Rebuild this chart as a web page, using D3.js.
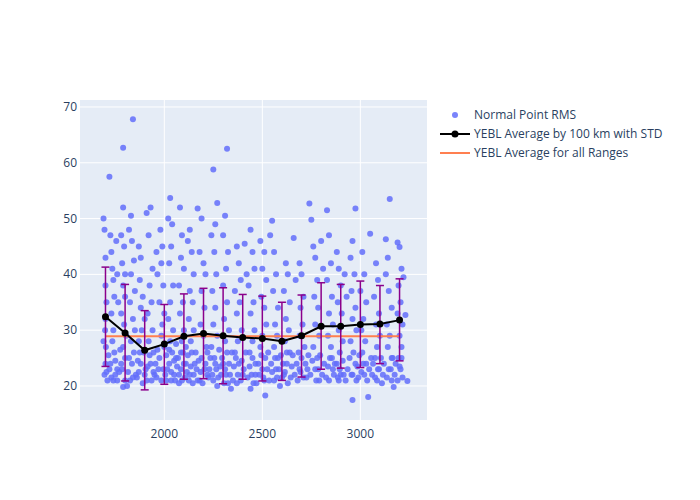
<!DOCTYPE html>
<html><head><meta charset="utf-8">
<script src="https://cdn.jsdelivr.net/npm/d3@7"></script>
<style>body{margin:0;background:#fff}text{font-family:"Open Sans",sans-serif;fill:#2a3f5f}</style>
</head><body><svg class="main" width="700" height="500"></svg>
<script>
// scatter points (range, rms), read off approximately
var points = [
[1690,50],[1695,48],[1700,43],[1700,38],[1705,35],[1698,30],[1702,27],[1700,24],[1695,22],[1710,21],[1690,28],[1700,32],
[1720,57.5],[1725,47],[1730,44],[1735,41],[1740,39],[1745,36],[1730,33],[1740,30],[1735,28],[1745,26],[1725,24],[1750,22],[1740,21],[1760,23],[1755,46],[1760,40],[1765,35],
[1790,62.7],[1790,52],[1780,47],[1795,45],[1785,42],[1800,40],[1790,38],[1800,36],[1780,33],[1795,31],[1805,29],[1790,27],[1800,25],[1785,23],[1800,21],[1790,19.8],[1810,20],
[1840,67.8],[1830,50.5],[1820,48],[1835,46],[1845,42.5],[1830,40],[1850,37],[1825,35],[1840,32],[1850,30],[1830,28],[1845,26],[1835,24],[1855,22],[1840,21.5],
[1870,45],[1880,43],[1875,39],[1890,36],[1880,34],[1900,32],[1885,30],[1870,28],[1895,26],[1880,24],[1900,22],[1890,20.5],[1905,23],
[1910,51],[1930,52],[1920,47],[1940,41],[1925,38],[1935,35],[1915,33],[1940,30],[1920,28],[1945,26],[1930,24],[1950,22],[1935,21],[1960,44],[1965,40],
[1980,48],[1990,45],[1985,42],[1995,38],[1975,35],[2000,33],[1990,31],[1985,29],[2000,27],[1975,25],[1995,23],[1985,21],[2005,22],
[2030,53.7],[2020,50],[2040,49],[2035,45],[2025,42],[2045,38],[2030,35],[2020,32],[2045,30],[2030,28],[2040,26],[2025,24],[2050,22],[2035,21],[2060,25],
[2080,52],[2090,47],[2085,43],[2100,41],[2075,38],[2095,35],[2080,33],[2100,30],[2090,28],[2085,26],[2100,24],[2075,22],[2090,21],[2110,27],
[2130,48],[2120,46],[2140,44],[2150,40],[2130,37],[2145,35],[2125,32],[2150,30],[2135,28],[2140,26],[2155,24],[2130,22],[2145,20.5],[2170,51.8],
[2190,50],[2180,44],[2200,42],[2210,40],[2190,37],[2205,34],[2185,31],[2200,29],[2215,27],[2190,25],[2205,23],[2180,21],[2220,22],
[2250,58.8],[2270,52.8],[2260,49],[2240,47],[2255,44],[2265,40],[2245,37],[2260,34],[2250,31],[2270,29],[2240,27],[2255,25],[2265,23],[2250,21],[2270,20],
[2320,62.5],[2310,50.5],[2300,47],[2325,44],[2315,41],[2300,38],[2320,35],[2305,32],[2330,30],[2310,28],[2320,26],[2300,24],[2315,22],[2325,20.5],[2340,19.5],
[2370,45],[2380,42],[2390,39],[2360,37],[2385,35],[2370,33],[2395,30],[2375,28],[2360,26],[2380,24],[2400,22],[2370,20.5],[2410,45.5],[2420,40],
[2440,48],[2450,44],[2460,41],[2430,38],[2455,35],[2440,33],[2460,30],[2450,28],[2435,26],[2465,24],[2445,22],[2455,20.5],[2440,19.5],
[2490,46],[2510,44],[2500,41],[2520,39],[2495,36],[2510,34],[2520,31],[2500,29],[2490,27],[2515,25],[2500,23],[2510,21],[2515,18.3],[2550,49.6],[2540,47],
[2560,44],[2570,40],[2555,37],[2580,34],[2565,31],[2575,29],[2560,27],[2580,25],[2570,23],[2560,21],[2590,20],
[2620,42],[2630,40],[2610,37],[2640,35],[2620,32],[2635,30],[2615,28],[2640,26],[2625,24],[2610,22],[2630,20.5],[2660,46.5],[2670,39],
[2690,42],[2700,40],[2710,36],[2695,34],[2705,31],[2690,29],[2715,27],[2700,25],[2690,23],[2710,21.5],[2740,52.7],[2750,49.8],
[2760,45],[2770,43],[2780,39],[2765,36],[2785,34],[2770,31],[2790,29],[2760,27],[2780,25],[2770,23],[2790,21],[2800,46],[2810,41],
[2830,51.5],[2840,47],[2850,42],[2830,39],[2855,36],[2840,33],[2860,31],[2835,29],[2850,27],[2845,25],[2860,23],[2840,21],
[2880,44],[2890,41],[2900,38],[2885,35],[2905,33],[2890,30],[2910,28],[2895,26],[2880,24],[2900,22],[2890,21],[2920,40],[2930,36],
[2960,17.5],[2975,51.8],[2960,46],[2950,43],[2970,40],[2955,37],[2975,34],[2960,32],[2980,30],[2950,28],[2965,26],[2975,24],[2960,22],[2980,21],
[3010,44],[3020,40],[3000,37],[3030,35],[3015,32],[3005,30],[3025,28],[3010,26],[3030,24],[3020,22],[3040,18],[3050,47.3],
[3080,42],[3090,39],[3070,36],[3095,33],[3080,31],[3100,29],[3085,27],[3075,25],[3095,23],[3085,21],[3110,20.5],
[3130,46.3],[3140,43],[3150,53.5],[3130,40],[3145,37],[3160,34],[3135,31],[3150,29],[3140,27],[3160,25],[3145,23],[3160,21],[3170,19.8],
[3190,45.7],[3200,44.9],[3210,41],[3195,38],[3205,35],[3190,33],[3215,31],[3200,29],[3210,27],[3195,25],[3205,23],[3220,39.5],[3230,32.7],[3240,20.9]
];
// the dense band near the bottom, read off approximately
var densePoints = [
[1705,22.5],[1715,25.5],[1720,23],[1730,21.5],[1750,24.5],[1760,21],[1770,22.5],[1775,26.5],[1780,24],[1815,22.5],[1820,25],[1825,21],
[1860,21.5],[1865,24.5],[1870,22.5],[1875,26],[1910,21],[1915,23.5],[1925,25.5],[1945,22.5],[1955,24],[1960,21.5],[1965,26.5],[1970,23],
[2010,21],[2010,25.5],[2015,23],[2025,26.5],[2035,22.5],[2050,24.5],[2055,21],[2060,27.5],[2065,23.5],[2070,25],[2075,20.5],[2085,23],
[2095,26],[2105,21.5],[2110,24],[2115,22.5],[2120,25.5],[2125,21],[2135,23.5],[2150,22],[2160,26],[2165,23],[2170,21],[2175,24.5],
[2185,22.5],[2195,20.5],[2210,24],[2220,26],[2225,21.5],[2230,23],[2235,25],[2245,22],[2260,24],[2275,21.5],[2280,26.5],[2285,23.5],
[2290,22],[2295,25],[2305,20.5],[2310,23],[2330,24],[2335,22],[2345,26],[2350,21],[2355,23.5],[2365,25],[2375,22],[2390,21],[2395,24.5],
[2405,23],[2415,26],[2425,21.5],[2435,23.5],[2450,25],[2465,22],[2470,20.5],[2480,24],[2485,22],[2495,25.5],[2505,21.5],[2525,23],
[2530,26],[2535,21],[2545,24],[2550,22.5],[2565,25],[2575,21.5],[2585,23],[2595,25.5],[2600,21.5],[2605,24],[2615,22.5],[2625,26],
[2645,21.5],[2650,23.5],[2655,25.5],[2665,22],[2675,24],[2680,21],[2685,26],[2695,22.5],[2720,24],[2725,21.5],[2730,23],[2735,25.5],
[2745,22],[2755,24.5],[2775,21],[2785,23],[2795,25.5],[2805,22],[2815,24],[2825,21.5],[2835,23.5],[2855,25],[2865,22],[2870,24],
[2885,21.5],[2895,23],[2910,24.5],[2915,22],[2925,21],[2935,23],[2945,25],[2955,22],[2985,23.5],[2990,21.5],[2995,25.5],[3005,22.5],
[3015,24],[3035,21],[3045,23],[3055,25],[3060,22],[3065,24],[3075,21.5],[3090,23],[3105,25],[3115,22],[3120,24],[3135,21.5],
[3155,23],[3165,25],[3175,22],[3180,24],[3190,21],[3200,23.5],[3210,25],[3215,21.5]
];
var binRanges = [1700,1800,1900,2000,2100,2200,2300,2400,2500,2600,2700,2800,2900,3000,3100,3200];
var binMeans  = [32.4,29.5,26.4,27.5,28.9,29.4,29.0,28.7,28.5,28.0,29.0,30.7,30.7,31.0,31.1,31.8];
var binHigh   = [41.3,38.2,33.5,34.6,36.5,37.5,37.6,36.4,36.1,35.0,36.3,38.5,38.2,38.8,38.0,39.2];
var binLow    = [23.5,20.9,19.3,20.3,21.2,21.3,20.4,21.2,20.9,21.0,21.6,23.0,23.2,23.3,24.0,24.5];
var overallMean = 28.9;
var xTicks = [2000,2500,3000];
var yTicks = [20,30,40,50,60,70];
var legendLabels = ["Normal Point RMS","YEBL Average by 100 km with STD","YEBL Average for all Ranges"];

var svg = d3.select(".main");
var m = {left:80, top:100, right:427, bottom:420};
var x = d3.scaleLinear().domain([1570,3340]).range([m.left,m.right]);
var y = d3.scaleLinear().domain([13.9,71.25]).range([m.bottom,m.top]);

svg.append("rect").attr("x",m.left).attr("y",m.top).attr("width",m.right-m.left).attr("height",m.bottom-m.top).attr("fill","#e5ecf6");
svg.append("g").selectAll("line").data(xTicks).join("line")
    .attr("x1",x).attr("x2",x).attr("y1",m.top).attr("y2",m.bottom).attr("stroke","#fff");
svg.append("g").selectAll("line").data(yTicks).join("line")
    .attr("y1",y).attr("y2",y).attr("x1",m.left).attr("x2",m.right).attr("stroke","#fff");
svg.append("g").selectAll("text").data(xTicks).join("text")
    .attr("x",x).attr("y",m.bottom+18).attr("text-anchor","middle").attr("font-size",12).text(function(d){return d;});
svg.append("g").selectAll("text").data(yTicks).join("text")
    .attr("x",m.left-3).attr("y",function(d){return y(d)+4;}).attr("text-anchor","end").attr("font-size",12).text(function(d){return d;});

var plot = svg.append("g");
plot.selectAll("circle.pt").data(points.concat(densePoints)).join("circle").attr("class","pt")
    .attr("cx",function(d){return x(d[0]);}).attr("cy",function(d){return y(d[1]);})
    .attr("r",3).attr("fill","#636efa").attr("opacity",0.85);

plot.append("line").attr("x1",x(binRanges[0])).attr("x2",x(binRanges[binRanges.length-1]))
    .attr("y1",y(overallMean)).attr("y2",y(overallMean)).attr("stroke","#ff7f50").attr("stroke-width",2);

var eb = plot.append("g").attr("stroke","#8b008b").attr("stroke-width",1.5);
binRanges.forEach(function(r,i){
    var cx = x(r);
    eb.append("line").attr("x1",cx).attr("x2",cx).attr("y1",y(binHigh[i])).attr("y2",y(binLow[i]));
    eb.append("line").attr("x1",cx-4).attr("x2",cx+4).attr("y1",y(binHigh[i])).attr("y2",y(binHigh[i]));
    eb.append("line").attr("x1",cx-4).attr("x2",cx+4).attr("y1",y(binLow[i])).attr("y2",y(binLow[i]));
});
var line = d3.line().x(function(d,i){return x(binRanges[i]);}).y(function(d){return y(d);});
plot.append("path").datum(binMeans).attr("d",line).attr("fill","none").attr("stroke","#000").attr("stroke-width",2);
plot.selectAll("circle.avg").data(binMeans).join("circle").attr("class","avg")
    .attr("cx",function(d,i){return x(binRanges[i]);}).attr("cy",y).attr("r",3.5).attr("fill","#000");

var lg = svg.append("g").attr("transform","translate(440,115)");
legendLabels.forEach(function(t,i){
    var g = lg.append("g").attr("transform","translate(0,"+(i*19)+")");
    if (i===0) g.append("circle").attr("cx",15).attr("cy",0).attr("r",3).attr("fill","#636efa").attr("opacity",0.85);
    if (i===1) {
        g.append("line").attr("x1",0).attr("x2",30).attr("stroke","#000").attr("stroke-width",2);
        g.append("circle").attr("cx",15).attr("r",3.5).attr("fill","#000");
    }
    if (i===2) g.append("line").attr("x1",0).attr("x2",30).attr("stroke","#ff7f50").attr("stroke-width",2);
    g.append("text").attr("x",34).attr("y",4).attr("font-size",12).text(t);
});
</script></body></html>
